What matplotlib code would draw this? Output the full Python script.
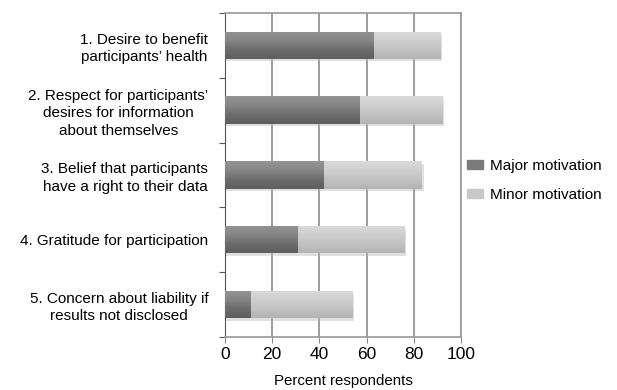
import numpy as np
import matplotlib.pyplot as plt
from matplotlib.patches import Patch
from matplotlib.colors import LinearSegmentedColormap

plt.rcParams['font.family'] = ['Liberation Sans', 'DejaVu Sans']

categories = [
    "1. Desire to benefit\nparticipants\u2019 health",
    "2. Respect for participants\u2019\ndesires for information\nabout themselves",
    "3. Belief that participants\nhave a right to their data",
    "4. Gratitude for participation",
    "5. Concern about liability if\nresults not disclosed",
]
major = [63, 57, 42, 31, 11]
minor = [28, 35, 41.5, 45, 43]

major_color = '#7b7b7b'
minor_color = '#c9c9c9'
major_grad = LinearSegmentedColormap.from_list('maj', ['#949494', '#858585', '#6c6c6c', '#5e5e5e'])
minor_grad = LinearSegmentedColormap.from_list('min', ['#dadada', '#cfcfcf', '#c2c2c2', '#b4b4b4'])

fig = plt.figure(figsize=(6.17, 3.9), dpi=100)
ax = fig.add_axes([0.3647, 0.136, 0.3825, 0.831])

y = np.arange(len(categories))
h = 0.42

# soft drop shadow under each full bar
tot = np.array(major) + np.array(minor)
ax.barh(y + 0.04, tot + 0.8, height=h, color='#bbbbbb', alpha=0.45, zorder=2, linewidth=0)

grad = np.linspace(0, 1, 64).reshape(-1, 1)
bars_major = ax.barh(y, major, height=h, color=major_color, zorder=3)
bars_minor = ax.barh(y, minor, left=major, height=h, color=minor_color, zorder=3)
for bars, cmap in [(bars_major, major_grad), (bars_minor, minor_grad)]:
    for b in bars:
        x0, yb = b.get_x(), b.get_y()
        im = ax.imshow(grad, cmap=cmap, aspect='auto', origin='upper',
                       extent=(x0, x0 + b.get_width(), yb + b.get_height(), yb),
                       zorder=4)
        im.set_clip_path(b)
ax.set_xlim(0, 100)
ax.set_ylim(len(categories) - 0.5, -0.5)

ax.set_xticks(range(0, 101, 20))
ax.tick_params(axis='x', labelsize=12.5, length=4, color='#888888', pad=3)
ax.xaxis.grid(True, color='#8c8c8c', linewidth=1.2, zorder=0)

# category labels sit between boundary ticks
ax.set_yticks(np.arange(-0.5, len(categories), 1.0))
ax.set_yticklabels([])
ax.set_yticks(y, minor=True)
ax.set_yticklabels(categories, minor=True, fontsize=11, ha='right',
                   multialignment='center', linespacing=1.3)
ax.tick_params(axis='y', which='minor', length=0, pad=12)
ax.tick_params(axis='y', which='major', length=4, color='#555555')

for side in ['top', 'right', 'bottom']:
    ax.spines[side].set_color('#9a9a9a')
    ax.spines[side].set_linewidth(1.2)
ax.spines['left'].set_color('#555555')

ax.set_xlabel('Percent respondents', fontsize=10.8, labelpad=9)

handles = [Patch(color=major_color, label='Major motivation'),
           Patch(color=minor_color, label='Minor motivation')]
fig.legend(handles=handles, loc='center left', bbox_to_anchor=(0.735, 0.537),
           frameon=False, fontsize=11, handlelength=1.05, handleheight=0.55,
           handletextpad=0.45, labelspacing=1.0)

fig.savefig('out.png', dpi=100)
